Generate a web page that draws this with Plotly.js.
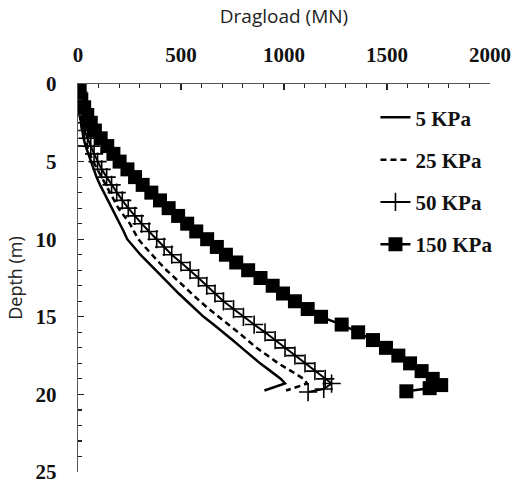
<!DOCTYPE html>
<html>
<head>
<meta charset="utf-8">
<script src="https://cdn.plot.ly/plotly-3.0.1.min.js"></script>
<style>html,body{margin:0;padding:0;background:#fff;}#chart{width:514px;height:485px;}</style>
</head>
<body>
<div id="chart"></div>
<script>
// Depth (m) and dragload (MN)
const seriesNames = ["5 KPa", "25 KPa", "50 KPa", "150 KPa"];

const depth5 = [0,0.5,1,1.5,2,2.5,3,3.5,4,4.5,5,5.5,6,6.5,7,7.5,8,8.5,9,9.5,10,10.5,11,11.5,12,12.5,13,13.5,14,14.5,15,15.5,16,16.5,17,17.5,18,18.5,19,19.3,19.75];
const load5  = [0,1,3,5,9,14,19,27,37,50,65,77,90,107,126,146,166,186,206,222,239,270,303,340,376,412,448,489,529,570,610,658,706,750,795,840,884,935,985,1005,905];

const depth25 = [0,0.5,1,1.5,2,2.5,3,3.5,4,4.5,5,5.5,6,6.5,7,7.5,8,8.5,9,9.5,10,10.5,11,11.5,12,12.5,13,13.5,14,14.5,15,15.5,16,16.5,17,17.5,18,18.5,19,19.3,19.75];
const load25  = [0,1,3,5,8,13,20,30,42,57,74,95,115,135,155,175,196,224,252,272,293,325,358,394,430,470,511,551,592,636,681,730,778,822,867,920,972,1035,1095,1112,1010];

const depth50 = [0,0.5,1,1.5,2,2.5,3,3.5,4,4.5,5,5.5,6,6.5,7,7.5,8,8.5,9,9.5,10,10.5,11,11.5,12,12.5,13,13.5,14,14.5,15,15.5,16,16.5,17,17.5,18,18.5,19,19.3,19.65,19.85];
const load50  = [0,1,4,8,14,22,32,46,62,78,95,115,139,163,188,215,244,276,309,345,382,418,455,500,544,585,625,665,706,755,803,855,908,957,1005,1053,1102,1150,1200,1231,1193,1117];

const depth150 = [0,0.5,1,1.5,2,2.5,3,3.5,4,4.5,5,5.5,6,6.5,7,7.5,8,8.5,9,9.5,10,10.5,11,11.5,12,12.5,13,13.5,14,14.5,15,15.5,16,16.5,17,17.5,18,18.5,19,19.4,19.6,19.8];
const load150  = [0,8,16,30,45,62,82,110,142,172,202,240,277,314,356,398,440,486,530,574,627,674,718,768,826,886,945,995,1053,1115,1180,1280,1360,1432,1495,1555,1612,1668,1722,1763,1707,1594];

const xTicks = [0, 500, 1000, 1500, 2000];
const yTicks = [0, 5, 10, 15, 20, 25];

const serif = "Liberation Serif, Times New Roman, serif";
const sans = "Open Sans, Noto Sans, sans-serif";

const traces = [
  {x: load5, y: depth5, name: seriesNames[0], legendgroup: "a", mode: "lines",
   line: {color: "#000", width: 2.5}},
  {x: load25, y: depth25, name: seriesNames[1], legendgroup: "b", mode: "lines",
   line: {color: "#000", width: 2.5, dash: "6px,4px"}},
  {x: load50, y: depth50, name: seriesNames[2], legendgroup: "c", mode: "lines+markers",
   line: {color: "#000", width: 2},
   marker: {symbol: "cross-thin", size: 13, color: "#000", line: {color: "#000", width: 1.6}}},
  {x: load150, y: depth150, name: seriesNames[3], legendgroup: "d", mode: "lines+markers",
   line: {color: "#000", width: 2.5},
   marker: {symbol: "square", size: 14, color: "#000"}}
];

const axisCommon = {
  showgrid: false, zeroline: false, showline: true,
  linecolor: "#555", linewidth: 1.3,
  ticks: "inside", ticklen: 6, tickwidth: 1.3, tickcolor: "#222",
  tickfont: {family: serif, size: 21, color: "#111", weight: "bold"},
  ticklabeloverflow: "allow",
  minor: {ticks: "inside", ticklen: 4, tickwidth: 1.2, tickcolor: "#222", showgrid: false}
};

const layout = {
  width: 514, height: 485,
  margin: {l: 78, r: 24, t: 84, b: 13},
  paper_bgcolor: "#fff", plot_bgcolor: "#fff",
  showlegend: true,
  legend: {x: 0.722, y: 0.966, xanchor: "left", yanchor: "top",
           font: {family: serif, size: 21, color: "#111", weight: "bold"},
           bgcolor: "rgba(0,0,0,0)", tracegroupgap: 12, traceorder: "grouped"},
  xaxis: Object.assign({}, axisCommon, {
    side: "top", range: [0, 2000], tickvals: xTicks, ticktext: xTicks.map(String),
    minor: Object.assign({}, axisCommon.minor, {dtick: 100}),
    ticklabelstandoff: 12,
    title: {text: "Dragload (MN)", font: {family: sans, size: 19, color: "#222"}, standoff: 14}
  }),
  yaxis: Object.assign({}, axisCommon, {
    range: [25, 0], tickvals: yTicks, ticktext: yTicks.map(String),
    minor: Object.assign({}, axisCommon.minor, {dtick: 1}),
    ticklabelstandoff: 16,
    title: {text: "Depth (m)", font: {family: sans, size: 18, color: "#222"}, standoff: 8}
  })
};

Plotly.newPlot("chart", traces, layout, {displayModeBar: false, staticPlot: true});
</script>
</body>
</html>
